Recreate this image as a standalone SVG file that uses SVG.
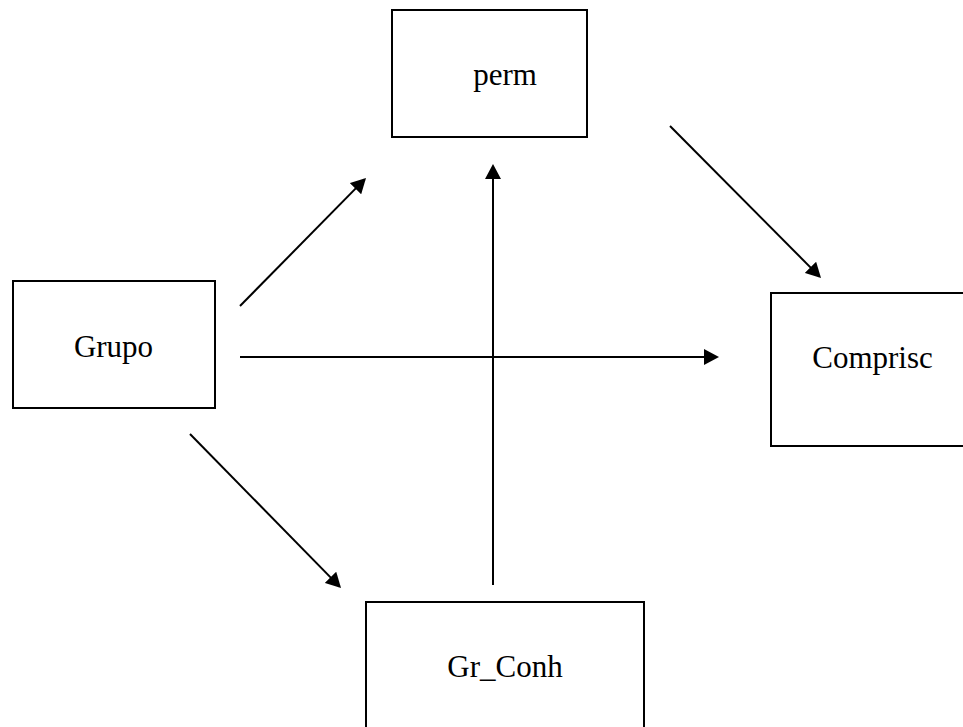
<svg xmlns="http://www.w3.org/2000/svg" width="963" height="727" viewBox="0 0 963 727">
<style>
.box{fill:#fff;stroke:#000;stroke-width:2}
.lbl{font-family:"Liberation Serif","Times New Roman",serif;font-size:31px;fill:#000;text-anchor:middle}
.edge{stroke:#000;stroke-width:2;fill:none;marker-end:url(#ah)}
</style>
<defs>
<marker id="ah" markerUnits="userSpaceOnUse" markerWidth="16" markerHeight="16" refX="13" refY="8" orient="auto" viewBox="0 0 16 16">
<path d="M0,0 L15,8 L0,16 Z" fill="#000"/>
</marker>
</defs>
<rect width="963" height="727" fill="#fff"/>
<g id="perm"><rect class="box" x="392" y="10" width="195" height="127"/><text class="lbl" x="505" y="85">perm</text></g>
<g id="grupo"><rect class="box" x="13" y="281" width="202" height="127"/><text class="lbl" x="113.5" y="357">Grupo</text></g>
<g id="comprisc"><rect class="box" x="771" y="293" width="194" height="153"/><text class="lbl" x="872.5" y="368">Comprisc</text></g>
<g id="grconh"><rect class="box" x="366" y="602" width="278" height="130"/><text class="lbl" x="505" y="677">Gr_Conh</text></g>
<g id="connectors">
<line class="edge" x1="240" y1="306" x2="364.6" y2="179.4"/>
<line class="edge" x1="670" y1="126" x2="819.6" y2="276.6"/>
<line class="edge" x1="240" y1="357" x2="717" y2="357"/>
<line class="edge" x1="190" y1="434" x2="339.6" y2="586.6"/>
<line class="edge" x1="493" y1="585" x2="493" y2="166"/>
</g>
</svg>
